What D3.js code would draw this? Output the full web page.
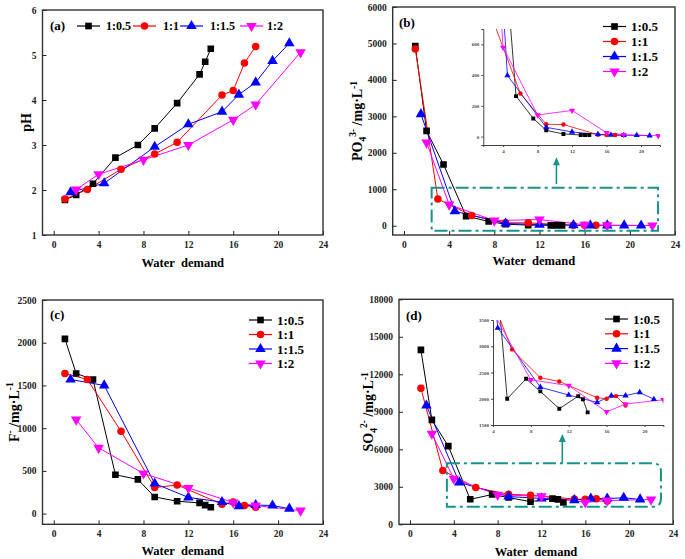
<!DOCTYPE html>
<html><head><meta charset="utf-8">
<script src="https://cdn.jsdelivr.net/npm/d3@7"></script>
<style>
body{margin:0;background:#fff;}
svg text{font-family:'Liberation Serif',serif !important;font-weight:bold;}
</style></head>
<body><svg id="c" width="685" height="559" font-family="Liberation Serif" font-weight="bold"></svg>
<script>
// ---------------- DATA ----------------
const seriesNames = ["1:0.5","1:1","1:1.5","1:2"];
const colors = ["#000000","#ff0000","#0000ff","#ff00ff"];
const x05 = [1,2,3.5,5.5,7.5,9,11,13,13.5,14];
const x10 = [1,3,6,9,11,15,16,17,18];
const x15 = [1.5,4.5,9,12,15,16.5,18,19.5,21];
const x20 = [2,4,8,12,16,18,22];

const pH05 = [1.78,1.89,2.14,2.72,3.0,3.37,3.93,4.57,4.85,5.14];
const pH10 = [1.80,2.01,2.46,2.80,3.06,4.11,4.21,4.82,5.19];
const pH15 = [1.95,2.15,2.96,3.46,3.74,4.12,4.39,4.87,5.26];
const pH20 = [2.01,2.35,2.67,3.0,3.56,3.90,5.06];

const PO05 = [4930,2600,1680,263,118,40,17,10,10,10];
const PO10 = [4850,730,280,80,78,12,10,10,10];
const PO15 = [3060,397,60,30,15,10,8,8,6];
const PO20 = [2280,580,140,170,25,12,5];

const F05 = [2045,1640,1570,455,400,195,145,125,100,75];
const F10 = [1640,1570,965,305,335,110,135,95,75];
const F15 = [1570,1500,352,190,135,88,100,95,58];
const F20 = [1100,770,470,300,130,95,35];

const SO05 = [13950,8350,6250,2000,2380,2140,1810,2050,1990,1740];
const SO10 = [10880,4300,2940,2400,2330,2020,2000,2050,1870];
const SO15 = [9500,3350,2220,2070,1930,2060,2060,2120,1990];
const SO20 = [7250,3650,2360,2250,1750,1900,1980];

const xTicks = [0,4,8,12,16,20,24];
const insetXTicks = [4,8,12,16,20];
const pHTicks = [1,2,3,4,5,6];
const POTicks = [0,1000,2000,3000,4000,5000,6000];
const POInsetTicks = [0,200,400,600];
const FTicks = [0,500,1000,1500,2000,2500];
const SOTicks = [0,3000,6000,9000,12000,15000,18000];
const SOInsetTicks = [1500,2000,2500,3000,3500];
const xTitle = "Water\u00a0\u00a0demand";

// ---------------- DRAW ----------------
const FONT = "'Liberation Serif', serif";
const svg = d3.select("#c");
const teal = "#17938a";
const xs = [x05,x10,x15,x20];
const symbols = [d3.symbolSquare, d3.symbolCircle, d3.symbolTriangle, d3.symbolTriangle];
const rot = [0,0,0,180];
const symSize = [44,44,48,48];

function mk(ys){ return xs.map((x,i)=>x.map((v,j)=>[v, ys[i][j]])); }
function txt(sel){ return sel.attr("font-family",FONT).attr("font-weight","bold"); }

let clipId = 0;
function drawSeries(g, x, y, data, scale, lw){
  data.forEach((pts,i)=>{
    g.append("path").datum(pts)
      .attr("fill","none").attr("stroke",colors[i]).attr("stroke-width",lw)
      .attr("d", d3.line().x(d=>x(d[0])).y(d=>y(d[1])));
  });
  data.forEach((pts,i)=>{
    g.selectAll(null).data(pts).enter().append("path")
      .attr("d", d3.symbol().type(symbols[i]).size(symSize[i]*scale))
      .attr("fill",colors[i])
      .attr("transform", d=>`translate(${x(d[0])},${y(d[1])}) rotate(${rot[i]})`);
  });
}

function styleAxis(a, fs, col){
  a.attr("font-family",FONT);
  a.selectAll("text").attr("font-size",fs).attr("fill",col).attr("font-family",FONT).attr("font-weight","bold");
  a.selectAll("line").attr("stroke",col);
}

function panel(o){
  const x = d3.scaleLinear().domain(o.xd).range([o.l,o.r]);
  const y = d3.scaleLinear().domain(o.yd).range([o.b,o.t]);
  const g = svg.append("g");
  g.append("g").attr("transform",`translate(0,${o.b})`)
    .call(d3.axisBottom(x).tickValues(xTicks).tickSize(-4).tickPadding(6).tickFormat(d3.format("d")))
    .call(a=>{a.select(".domain").remove(); styleAxis(a,9.5,"#222");});
  g.append("g").attr("transform",`translate(${o.l},0)`)
    .call(d3.axisLeft(y).tickValues(o.yt).tickSize(-4).tickPadding(6).tickFormat(d3.format("d")))
    .call(a=>{a.select(".domain").remove(); styleAxis(a,9.5,"#222");});
  g.append("rect").attr("x",o.l).attr("y",o.t).attr("width",o.r-o.l).attr("height",o.b-o.t)
    .attr("fill","none").attr("stroke","#333").attr("stroke-width",1.4);
  const id = "clip"+(clipId++);
  svg.append("clipPath").attr("id",id).append("rect").attr("x",o.l).attr("y",o.t).attr("width",o.r-o.l).attr("height",o.b-o.t);
  drawSeries(g.append("g").attr("clip-path",`url(#${id})`), x, y, o.data, 1, 1);
  txt(g.append("text")).attr("x",(o.l+o.r)/2).attr("y",o.xty).attr("text-anchor","middle")
    .attr("font-size",12.5).text(xTitle);
  const yt = txt(g.append("text")).attr("transform",`translate(${o.ytx},${(o.t+o.b)/2}) rotate(-90)`)
    .attr("text-anchor","middle").attr("dy","0.35em").attr("font-size",14);
  o.ytitle.forEach(p=>{
    const ts = yt.append("tspan").text(p[0]);
    if(p[1]==="sub"){ ts.attr("font-size",9.5).attr("dy","4"); }
    else if(p[1]==="sup"){ ts.attr("font-size",9.5).attr("dy", p[2]||"-9"); }
    else if(p[1]==="back"){ ts.attr("dy", p[2]); }
  });
  txt(g.append("text")).attr("x",o.lab[0]).attr("y",o.lab[1]).attr("font-size",13).text(o.label);
  return {x,y,g};
}

function legendV(g, lx, ly, dy){
  seriesNames.forEach((n,i)=>{
    const yy = ly + i*dy;
    g.append("line").attr("x1",lx).attr("x2",lx+23).attr("y1",yy).attr("y2",yy).attr("stroke",colors[i]).attr("stroke-width",1.2);
    g.append("path").attr("d",d3.symbol().type(symbols[i]).size(symSize[i])).attr("fill",colors[i])
      .attr("transform",`translate(${lx+11.5},${yy}) rotate(${rot[i]})`);
    txt(g.append("text")).attr("x",lx+28).attr("y",yy).attr("dy","0.36em").attr("font-size",13).text(n);
  });
}

function inset(o, data){
  const x = d3.scaleLinear().domain(o.xd).range([o.l,o.r]);
  const y = d3.scaleLinear().domain(o.yd).range([o.b,o.t]);
  const g = svg.append("g");
  const id = "clip"+(clipId++);
  svg.append("clipPath").attr("id",id).append("rect").attr("x",o.l).attr("y",o.t).attr("width",o.r-o.l).attr("height",o.b-o.t);
  drawSeries(g.append("g").attr("clip-path",`url(#${id})`), x, y, data, 0.35, 0.8);
  g.append("g").attr("transform",`translate(0,${o.b})`)
    .call(d3.axisBottom(x).tickValues(insetXTicks).tickSize(2).tickPadding(2).tickFormat(d3.format("d")))
    .call(a=>{a.select(".domain").attr("stroke","#444"); styleAxis(a,5,"#444");});
  g.append("g").attr("transform",`translate(${o.l},0)`)
    .call(d3.axisLeft(y).tickValues(o.yt).tickSize(2).tickPadding(2).tickFormat(d3.format("d")))
    .call(a=>{a.select(".domain").attr("stroke","#444"); styleAxis(a,5,"#444");});
}

function dashRect(p, x0,x1,y0,y1, roundRight){
  const L=p.x(x0),R=p.x(x1),T=p.y(y1),B=p.y(y0);
  let d;
  if(roundRight){ const r=8; d=`M${L},${T}H${R-r}Q${R},${T} ${R},${T+r}V${B-r}Q${R},${B} ${R-r},${B}H${L}Z`; }
  else d=`M${L},${T}H${R}V${B}H${L}Z`;
  p.g.append("path").attr("d",d).attr("fill","none").attr("stroke",teal).attr("stroke-width",2)
    .attr("stroke-dasharray","13,4,3,4");
}
function arrow(p, xv, y0v, y1v){
  const X=p.x(xv), Y0=p.y(y0v), Y1=p.y(y1v);
  p.g.append("line").attr("x1",X).attr("x2",X).attr("y1",Y0).attr("y2",Y1+6).attr("stroke",teal).attr("stroke-width",1.6);
  p.g.append("path").attr("d",`M${X},${Y1}L${X-3.5},${Y1+8}L${X+3.5},${Y1+8}Z`).attr("fill",teal);
}

// (a)
const pa = panel({l:42.5,r:323,t:10,b:235,xd:[-1,24],yd:[1,6],yt:pHTicks,data:mk([pH05,pH10,pH15,pH20]),
  xty:267, ytx:26, ytitle:[["pH"]], label:"(a)", lab:[50,30]});
(function(){
  const lx=[77,133,180,240], lt=[106,163,210,267];
  seriesNames.forEach((n,i)=>{
    pa.g.append("line").attr("x1",lx[i]).attr("x2",lx[i]+23).attr("y1",26).attr("y2",26).attr("stroke",colors[i]).attr("stroke-width",1.2);
    pa.g.append("path").attr("d",d3.symbol().type(symbols[i]).size(symSize[i])).attr("fill",colors[i])
      .attr("transform",`translate(${lx[i]+11.5},26) rotate(${rot[i]})`);
    txt(pa.g.append("text")).attr("x",lt[i]).attr("y",26).attr("dy","0.36em").attr("font-size",12).text(n);
  });
})();

// (b)
const pb = panel({l:392.7,r:675,t:7,b:235,xd:[-1,24],yd:[-255,6000],yt:POTicks,data:mk([PO05,PO10,PO15,PO20]),
  xty:265, ytx:357,
  ytitle:[["PO"],["4","sub"],["3-","sup","-10"],[" /mg·L","back","6"],["-1","sup","-5"]],
  label:"(b)", lab:[399,27]});
legendV(pb.g, 603, 26.5, 15);
dashRect(pb, 2.45, 22.5, -137, 1044, false);
arrow(pb, 13.5, 1140, 1880);
inset({l:483.3,r:660,t:29,b:145,xd:[1.7,22.2],yd:[-55,700],yt:POInsetTicks}, mk([PO05,PO10,PO15,PO20]));

// (c)
const pc = panel({l:42.5,r:323,t:300,b:524.3,xd:[-1,24],yd:[-125,2500],yt:FTicks,data:mk([F05,F10,F15,F20]),
  xty:555, ytx:14,
  ytitle:[["F"],["-","sup","-6"],[" /mg·L","back","6"],["-1","sup","-6"]],
  label:"(c)", lab:[50,319]});
legendV(pc.g, 249, 320, 14.5);

// (d)
const pd = panel({l:399,r:673,t:299.3,b:524.3,xd:[-1,24],yd:[0,18000],yt:SOTicks,data:mk([SO05,SO10,SO15,SO20]),
  xty:556, ytx:368,
  ytitle:[["SO"],["4","sub"],["2-","sup","-10"],[" /mg·L","back","6"],["-1","sup","-5"]],
  label:"(d)", lab:[406,320]});
legendV(pd.g, 605, 319, 14.8);
dashRect(pd, 3.37, 22.9, 1400, 4880, true);
arrow(pd, 13.9, 4950, 7230);
inset({l:493,r:663.4,t:320,b:425,xd:[4,22],yd:[1500,3500],yt:SOInsetTicks}, mk([SO05,SO10,SO15,SO20]));
</script>
</body></html>
